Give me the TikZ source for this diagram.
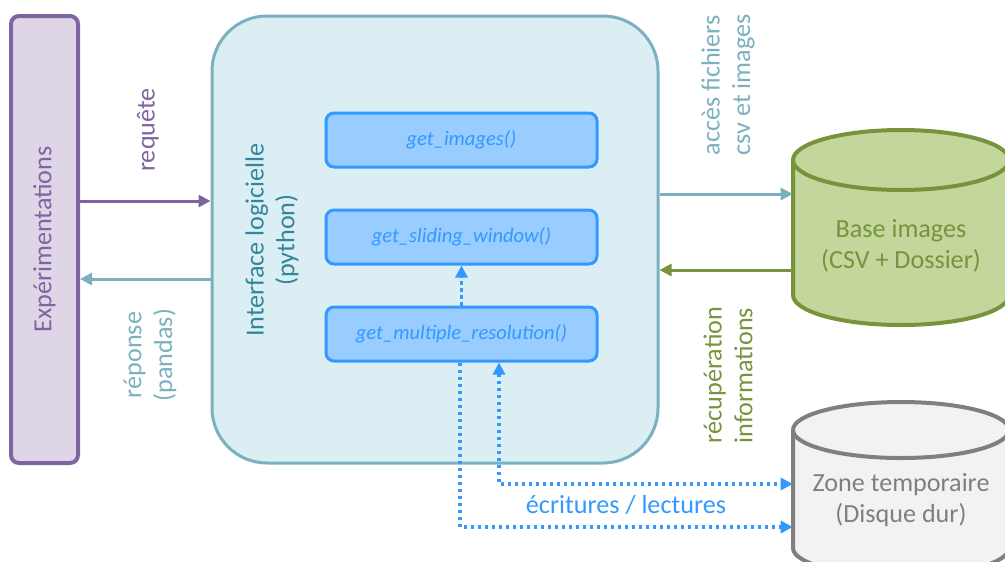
\documentclass[tikz,border=0pt]{standalone}
\usepackage{fontspec}
\setmainfont{Carlito}
\usetikzlibrary{arrows.meta,calc}
\definecolor{purpleS}{HTML}{8064A2}
\definecolor{purpleF}{HTML}{DED6E6}
\definecolor{tealS}{HTML}{7BB0C0}
\definecolor{tealF}{HTML}{DAEEF3}
\definecolor{tealT}{HTML}{31859C}
\definecolor{blueS}{HTML}{3399FF}
\definecolor{blueF}{HTML}{99CCFF}
\definecolor{greenS}{HTML}{77933C}
\definecolor{greenF}{HTML}{C3D69B}
\definecolor{grayS}{HTML}{7F7F7F}
\definecolor{grayF}{HTML}{F2F2F2}
\def\u{0.75pt}
\tikzset{
  lbl/.style={font=\fontsize{19.6pt}{23pt}\selectfont, align=center, inner sep=0pt},
  fbox/.style={draw=blueS, fill=blueF, line width=3*\u, rounded corners=8*\u,
    minimum width=271*\u, minimum height=54*\u, text=blueS,
    font=\fontsize{15.4pt}{18pt}\selectfont\itshape},
  arr/.style={line width=3*\u, -{Triangle[length=12*\u,width=12*\u]}},
  dots/.style={draw=blueS, line width=3.5*\u, dash pattern=on 3.5*\u off 3.5*\u},
  dtip/.tip={Triangle[length=12*\u,width=12*\u]},
}
\begin{document}
\begin{tikzpicture}[x=0.75pt,y=-0.75pt]
\useasboundingbox (0,0) rectangle (1005,561);
\clip (0,0) rectangle (1005,561);

% Experimentations
\node[draw=purpleS, fill=purpleF, line width=4*\u, rounded corners=8*\u,
  minimum width=67*\u, minimum height=447*\u] (exp) at (44.5,239.5) {};
\node[lbl, rotate=90, text=purpleS] (explbl) at (exp.center) {Expérimentations};

% Interface
\node[draw=tealS, fill=tealF, line width=3*\u, rounded corners=55*\u,
  minimum width=446*\u, minimum height=447*\u] (iface) at (435,239.5) {};
\node[lbl, rotate=90, text=tealT] (ifacelbl) at (272,240) {Interface logicielle\\(python)};

% function boxes
\node[fbox] (img) at (461.5,140) {get\_images()};
\node[fbox] (slide) at (461.5,237) {get\_sliding\_window()};
\node[fbox] (mult) at (461.5,334) {get\_multiple\_resolution()};

% Base images cylinder
\fill[greenF] (793,160) -- (793,295) arc (180:0:108 and 30) -- (1009,160) arc (0:-180:108 and 30) -- cycle;
\draw[greenS, line width=4*\u] (793,160) -- (793,295) arc (180:0:108 and 30) -- (1009,160);
\draw[greenS, line width=4*\u] (901,160) ellipse (108 and 30);
\node[inner sep=0pt, minimum width=216*\u, minimum height=135*\u] (base) at (901,227.5) {};
\node[lbl, text=greenS] (baselbl) at (901,246) {Base images\\(CSV + Dossier)};

% Zone temporaire cylinder
\fill[grayF] (793,430) -- (793,548) arc (180:0:108 and 28) -- (1009,430) arc (0:-180:108 and 28) -- cycle;
\draw[grayS, line width=4*\u] (793,430) -- (793,548) arc (180:0:108 and 28) -- (1009,430);
\draw[grayS, line width=4*\u] (901,430) ellipse (108 and 28);
\node[inner sep=0pt, minimum width=216*\u, minimum height=118*\u] (zone) at (901,489) {};
\node[lbl, text=grayS] (zonelbl) at (901,500) {Zone temporaire\\(Disque dur)};

% left arrows
\draw[arr, purpleS] (exp.east |- 0,201) -- (iface.west |- 0,201);
\draw[arr, tealS] (iface.west |- 0,279) -- (exp.east |- 0,279);
\node[lbl, rotate=90, text=purpleS] (req) at (148,130) {requête};
\node[lbl, rotate=90, text=tealS] (rep) at (150,355) {réponse\\(pandas)};

% right arrows
\draw[arr, tealS] (iface.east |- 0,194) -- (base.west |- 0,194);
\draw[arr, greenS] (base.west |- 0,270) -- (iface.east |- 0,270);
\node[lbl, rotate=90, text=tealS, align=left] (acc) at (728,85) {accès fichiers\\csv et images};
\node[lbl, rotate=90, text=greenS, align=left] (recup) at (728,375) {récupération\\informations};

% dotted connectors
\draw[dots, -dtip] (mult.north) -- (slide.south);
\draw[dots, -dtip] ($(mult.south)+(-1.5,0)$) |- (zone.west |- 0,527);
\draw[dots, dtip-dtip] ($(mult.south)+(37.5,0)$) |- (zone.west |- 0,484);
\node[lbl, text=blueS] (ecr) at (626,505) {écritures / lectures};
\end{tikzpicture}
\end{document}
